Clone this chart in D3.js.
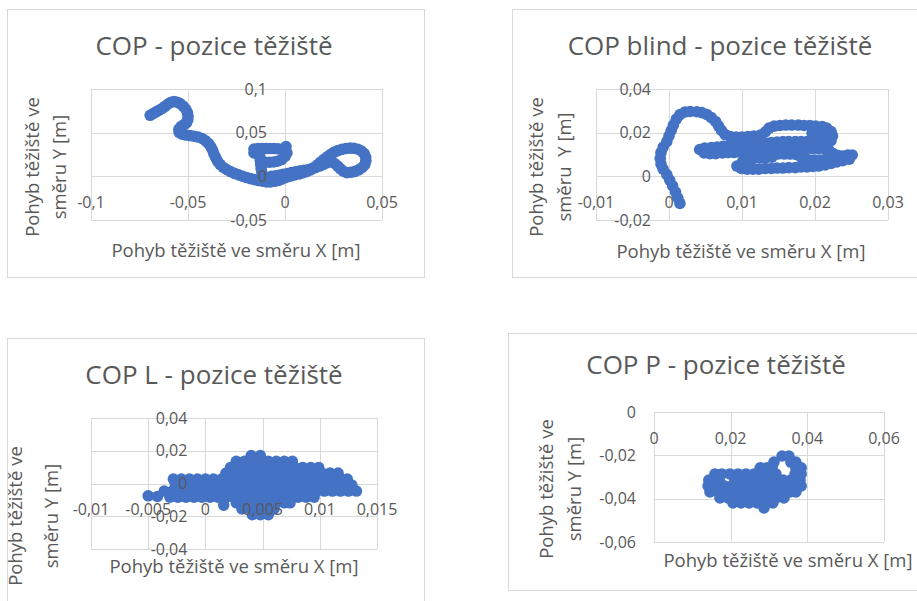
<!DOCTYPE html>
<html>
<head>
<meta charset="utf-8">
<script src="https://cdn.jsdelivr.net/npm/d3@7"></script>
<style>
  html, body { margin: 0; padding: 0; background: #fff; }
  svg text { font-family: "Open Sans", "Noto Sans", sans-serif; fill: #595959; white-space: pre; }
</style>
</head>
<body>
<svg width="917" height="601"></svg>
<script>
// COP - pozice těžiště (x, y v metrech)
var copPoints = [
  [-0.0695,0.0699],[-0.0680,0.0719],[-0.0664,0.0739],[-0.0649,0.0757],[-0.0633,0.0777],[-0.0618,0.0802],
  [-0.0603,0.0828],[-0.0587,0.0849],[-0.0572,0.0857],[-0.0556,0.0849],[-0.0541,0.0832],[-0.0525,0.0805],
  [-0.0512,0.0771],[-0.0503,0.0731],[-0.0500,0.0691],[-0.0501,0.0651],[-0.0507,0.0616],[-0.0520,0.0593],
  [-0.0536,0.0570],[-0.0547,0.0538],[-0.0546,0.0504],[-0.0530,0.0482],[-0.0510,0.0473],[-0.0489,0.0466],
  [-0.0469,0.0459],[-0.0448,0.0450],[-0.0427,0.0433],[-0.0409,0.0407],[-0.0394,0.0376],[-0.0382,0.0338],
  [-0.0373,0.0298],[-0.0366,0.0255],[-0.0357,0.0215],[-0.0348,0.0175],[-0.0335,0.0137],[-0.0319,0.0104],
  [-0.0301,0.0078],[-0.0281,0.0055],[-0.0260,0.0034],[-0.0239,0.0017],[-0.0219,0.0001],[-0.0198,-0.0014],
  [-0.0178,-0.0026],[-0.0157,-0.0038],[-0.0136,-0.0048],[-0.0116,-0.0056],[-0.0095,-0.0063],[-0.0075,-0.0064],
  [-0.0054,-0.0057],[-0.0033,-0.0046],[-0.0013,-0.0029],[0.0008,-0.0010],[0.0028,0.0003],[0.0049,0.0015],
  [0.0070,0.0026],[0.0090,0.0038],[0.0111,0.0054],[0.0131,0.0074],[0.0149,0.0100],[0.0166,0.0129],
  [0.0183,0.0162],[0.0199,0.0192],[0.0216,0.0221],[0.0234,0.0249],[0.0252,0.0274],[0.0272,0.0294],
  [0.0293,0.0309],[0.0314,0.0318],[0.0335,0.0323],[0.0355,0.0321],[0.0376,0.0310],[0.0394,0.0290],
  [0.0408,0.0260],[0.0416,0.0221],[0.0417,0.0178],[0.0411,0.0135],[0.0398,0.0101],[0.0380,0.0074],
  [0.0361,0.0057],[0.0340,0.0046],[0.0319,0.0042],[0.0301,0.0058],[0.0286,0.0086],[0.0272,0.0118],
  [0.0256,0.0147],[0.0238,0.0170],[0.0219,0.0157],[0.0198,0.0137],[0.0178,0.0118],[0.0157,0.0100],
  [0.0136,0.0086],[0.0116,0.0076],[0.0095,0.0068],[0.0075,0.0060],[0.0054,0.0052],[0.0033,0.0042],
  [0.0013,0.0033],[-0.0008,0.0024],[-0.0028,0.0015],[-0.0049,0.0007],[-0.0070,0.0000],
  [-0.0160,0.0313],[-0.0139,0.0317],[-0.0118,0.0318],[-0.0098,0.0318],[-0.0077,0.0318],[-0.0057,0.0318],
  [-0.0036,0.0315],[-0.0015,0.0310],[0.0003,0.0301],[0.0010,0.0267],[0.0000,0.0227],[-0.0018,0.0192],
  [-0.0039,0.0173],[-0.0059,0.0164],[-0.0080,0.0162],[-0.0100,0.0162],[-0.0160,0.0267],[-0.0134,0.0273],
  [-0.0130,0.0227],[-0.0127,0.0181],[-0.0125,0.0135],[-0.0123,0.0089],[-0.0119,0.0044],[-0.0116,-0.0002],
  [0.0005,0.0341]
];

// COP blind - pozice těžiště
var copBlindPoints = [
  [0.0015,-0.0124],[0.0012,-0.0099],[0.0009,-0.0072],[0.0005,-0.0044],[0.0001,-0.0017],[-0.0003,0.0008],
  [-0.0008,0.0033],[-0.0011,0.0056],[-0.0012,0.0082],[-0.0011,0.0109],[-0.0008,0.0134],[-0.0003,0.0159],
  [0.0000,0.0185],[0.0003,0.0210],[0.0006,0.0235],[0.0010,0.0262],[0.0015,0.0283],[0.0022,0.0295],
  [0.0029,0.0297],[0.0038,0.0296],[0.0045,0.0292],[0.0052,0.0283],[0.0058,0.0269],[0.0064,0.0251],
  [0.0068,0.0230],[0.0072,0.0210],[0.0077,0.0191],[0.0084,0.0182],[0.0092,0.0180],[0.0100,0.0180],
  [0.0108,0.0182],[0.0116,0.0185],[0.0125,0.0189],[0.0132,0.0203],[0.0137,0.0221],[0.0144,0.0230],
  [0.0152,0.0233],[0.0160,0.0235],[0.0168,0.0235],[0.0177,0.0235],[0.0185,0.0233],[0.0193,0.0233],
  [0.0201,0.0230],[0.0210,0.0228],[0.0216,0.0221],[0.0222,0.0205],[0.0224,0.0185],[0.0222,0.0164],
  [0.0214,0.0155],[0.0205,0.0157],[0.0197,0.0157],[0.0189,0.0159],[0.0181,0.0159],[0.0173,0.0159],
  [0.0164,0.0159],[0.0156,0.0159],[0.0148,0.0157],[0.0140,0.0155],[0.0132,0.0153],[0.0123,0.0150],
  [0.0115,0.0148],[0.0107,0.0146],[0.0099,0.0143],[0.0090,0.0141],[0.0082,0.0139],[0.0074,0.0137],
  [0.0066,0.0134],[0.0058,0.0132],[0.0049,0.0130],[0.0042,0.0123],[0.0048,0.0107],[0.0056,0.0104],
  [0.0064,0.0104],[0.0073,0.0107],[0.0081,0.0109],[0.0089,0.0109],[0.0097,0.0111],[0.0105,0.0111],
  [0.0114,0.0114],[0.0122,0.0116],[0.0130,0.0118],[0.0138,0.0120],[0.0147,0.0123],[0.0155,0.0123],
  [0.0163,0.0125],[0.0171,0.0125],[0.0179,0.0127],[0.0188,0.0127],[0.0196,0.0127],[0.0204,0.0127],
  [0.0212,0.0127],[0.0219,0.0120],[0.0225,0.0104],[0.0232,0.0095],[0.0238,0.0093],[0.0245,0.0098],
  [0.0251,0.0098],[0.0247,0.0079],[0.0238,0.0072],[0.0230,0.0066],[0.0222,0.0059],[0.0214,0.0052],
  [0.0205,0.0047],[0.0197,0.0045],[0.0189,0.0043],[0.0181,0.0043],[0.0173,0.0040],[0.0164,0.0040],
  [0.0156,0.0038],[0.0148,0.0038],[0.0140,0.0036],[0.0132,0.0036],[0.0123,0.0033],[0.0115,0.0033],
  [0.0107,0.0033],[0.0099,0.0036],[0.0093,0.0047],[0.0100,0.0063],[0.0108,0.0075],[0.0116,0.0082],
  [0.0125,0.0084],[0.0133,0.0086],[0.0141,0.0088],[0.0149,0.0102],[0.0158,0.0102],[0.0166,0.0102],
  [0.0174,0.0100],[0.0182,0.0082],[0.0190,0.0077],[0.0199,0.0075],[0.0207,0.0075],[0.0215,0.0079],
  [0.0223,0.0084],[0.0196,0.0198],[0.0204,0.0196],[0.0212,0.0191]
];

// COP L - pozice těžiště, po řádcích: [y, [x, ...]]
var copLRows = [
  [0.0170, [0.0040,0.0048]],
  [0.0135, [0.0027,0.0034,0.0041,0.0048,0.0055,0.0062,0.0069,0.0076]],
  [0.0098, [0.0022,0.0029,0.0036,0.0043,0.0050,0.0057,0.0064,0.0071,0.0078,0.0085,0.0092,0.0099]],
  [0.0064, [0.0018,0.0025,0.0032,0.0039,0.0046,0.0053,0.0060,0.0067,0.0074,0.0081,0.0088,0.0095,0.0102,0.0109,0.0116]],
  [0.0027, [-0.0028,-0.0021,-0.0014,-0.0007,0.0000,0.0007,0.0014,0.0021,0.0028,0.0035,0.0042,0.0049,0.0056,0.0063,0.0070,0.0077,0.0084,0.0091,0.0098,0.0105,0.0112,0.0119,0.0124]],
  [-0.0010, [-0.0026,-0.0019,-0.0012,-0.0005,0.0002,0.0009,0.0016,0.0023,0.0030,0.0037,0.0044,0.0051,0.0058,0.0065,0.0072,0.0079,0.0086,0.0093,0.0100,0.0107,0.0114,0.0121,0.0128]],
  [-0.0046, [-0.0036,-0.0029,-0.0022,-0.0015,-0.0008,-0.0001,0.0006,0.0013,0.0020,0.0027,0.0034,0.0041,0.0048,0.0055,0.0062,0.0069,0.0076,0.0083,0.0090,0.0097,0.0104,0.0111,0.0118,0.0125,0.0132]],
  [-0.0083, [-0.0031,-0.0024,-0.0017,-0.0010,-0.0003,0.0004,0.0011,0.0018,0.0025,0.0032,0.0039,0.0046,0.0053,0.0060,0.0067,0.0074,0.0081,0.0088,0.0095]],
  [-0.0118, [0.0027,0.0034,0.0041,0.0048,0.0055,0.0062,0.0069,0.0074]],
  [-0.0155, [0.0032,0.0039,0.0046,0.0053,0.0060]],
  [-0.0190, [0.0041,0.0048,0.0055]],
  [-0.0075, [-0.0050]],
  [-0.0079, [-0.0042]],
  [-0.0132, [0.0016]]
];

// COP P - pozice těžiště, po řádcích: [y, [x, ...]]
var copPRows = [
  [-0.0203, [0.0334,0.0352]],
  [-0.0231, [0.0313,0.0357,0.0370]],
  [-0.0258, [0.0277,0.0295,0.0308,0.0370,0.0384]],
  [-0.0286, [0.0159,0.0177,0.0198,0.0219,0.0240,0.0261,0.0282,0.0303,0.0318,0.0368,0.0384]],
  [-0.0314, [0.0143,0.0170,0.0211,0.0232,0.0253,0.0274,0.0295,0.0316,0.0337,0.0357,0.0381]],
  [-0.0341, [0.0141,0.0162,0.0183,0.0203,0.0224,0.0245,0.0266,0.0287,0.0308,0.0329,0.0350,0.0370,0.0384]],
  [-0.0369, [0.0146,0.0167,0.0188,0.0209,0.0230,0.0250,0.0271,0.0292,0.0313,0.0334,0.0355,0.0370]],
  [-0.0397, [0.0172,0.0193,0.0214,0.0235,0.0256,0.0277,0.0297,0.0318,0.0339]],
  [-0.0420, [0.0206,0.0227,0.0248,0.0269,0.0290,0.0310]],
  [-0.0443, [0.0287]]
];

// popisky os
var p1XTicks = [-0.1, -0.05, 0, 0.05], p1YTicks = [-0.05, 0, 0.05, 0.1];
var p2XTicks = [-0.01, 0, 0.01, 0.02, 0.03], p2YTicks = [-0.02, 0, 0.02, 0.04];
var p3XTicks = [-0.01, -0.005, 0, 0.005, 0.01, 0.015], p3YTicks = [-0.04, -0.02, 0, 0.02, 0.04];
var p4XTicks = [0, 0.02, 0.04, 0.06], p4YTicks = [-0.06, -0.04, -0.02, 0];

var titles = ["COP - pozice těžiště", "COP blind - pozice těžiště", "COP L - pozice těžiště", "COP P - pozice těžiště"];
var xTitle = "Pohyb těžiště ve směru X [m]";
var yTitles = [["Pohyb těžiště ve", "směru Y [m]"], ["Pohyb těžiště ve", "směru  Y [m]"],
               ["Pohyb těžiště ve", "směru Y [m]"], ["Pohyb těžiště ve", "směru Y [m]"]];

function fromRows(rows) {
  var out = [];
  rows.forEach(function(r) {
    r[1].forEach(function(xv) { out.push([xv, r[0]]); });
  });
  return out;
}

var locale = d3.formatLocale({decimal: ",", thousands: " ", grouping: [3], currency: ["", ""], minus: "-"});
var fmt = locale.format("~g");

var svg = d3.select("svg");
var blue = "#4472c4", grid = "#d9d9d9";

var panels = [
  {box: [7.5, 9.5, 417, 268], plot: [91, 382, 89, 220], xd: [-0.1, 0.05], yd: [-0.05, 0.1],
   xt: p1XTicks, yt: p1YTicks, pts: copPoints, title: titles[0], tPos: [214, 55],
   xtPos: [236, 257], ytX: [39, 66], ytY: 167},
  {box: [512.5, 9.5, 420, 268], plot: [596, 888, 89, 220], xd: [-0.01, 0.03], yd: [-0.02, 0.04],
   xt: p2XTicks, yt: p2YTicks, pts: copBlindPoints, title: titles[1], tPos: [720, 55],
   xtPos: [741, 258], ytX: [543, 571], ytY: 167},
  {box: [7.5, 338.5, 417, 300], plot: [91, 377, 418, 549], xd: [-0.01, 0.015], yd: [-0.04, 0.04],
   xt: p3XTicks, yt: p3YTicks, pts: fromRows(copLRows), title: titles[2], tPos: [214, 384],
   xtPos: [234, 573], ytX: [22, 58], ytY: 516},
  {box: [508.5, 333.5, 420, 257], plot: [654, 884, 412, 542], xd: [0, 0.06], yd: [-0.06, 0],
   xt: p4XTicks, yt: p4YTicks, pts: fromRows(copPRows), title: titles[3], tPos: [716, 374],
   xtPos: [788, 567], ytX: [553, 581], ytY: 489}
];

panels.forEach(function(p, i) {
  var g = svg.append("g");
  g.append("rect")
    .attr("x", p.box[0]).attr("y", p.box[1])
    .attr("width", p.box[2]).attr("height", p.box[3])
    .attr("fill", "#fff").attr("stroke", grid);

  var x = d3.scaleLinear().domain(p.xd).range([p.plot[0], p.plot[1]]);
  var y = d3.scaleLinear().domain(p.yd).range([p.plot[3], p.plot[2]]);

  g.selectAll(".vgrid").data(p.xt).enter().append("line")
    .attr("x1", function(d) { return Math.round(x(d)) + 0.5; })
    .attr("x2", function(d) { return Math.round(x(d)) + 0.5; })
    .attr("y1", p.plot[2]).attr("y2", p.plot[3])
    .attr("stroke", grid);
  g.selectAll(".hgrid").data(p.yt).enter().append("line")
    .attr("y1", function(d) { return Math.round(y(d)) + 0.5; })
    .attr("y2", function(d) { return Math.round(y(d)) + 0.5; })
    .attr("x1", p.plot[0]).attr("x2", p.plot[1])
    .attr("stroke", grid);

  g.selectAll(".pt").data(p.pts).enter().append("circle")
    .attr("cx", function(d) { return x(d[0]); })
    .attr("cy", function(d) { return y(d[1]); })
    .attr("r", 5.8)
    .attr("fill", blue);

  // popisky u os procházejících nulou
  var x0 = x(0), y0 = y(0);
  g.selectAll(".xl").data(p.xt).enter().append("text")
    .attr("x", function(d) { return x(d); })
    .attr("y", y0 + 26)
    .attr("dy", "0.35em")
    .attr("text-anchor", "middle")
    .style("font-size", "16px")
    .text(function(d) { return fmt(d); });
  g.selectAll(".yl").data(p.yt).enter().append("text")
    .attr("x", x0 - 18)
    .attr("y", function(d) { return y(d); })
    .attr("dy", "0.35em")
    .attr("text-anchor", "end")
    .style("font-size", "16px")
    .text(function(d) { return fmt(d); });

  g.append("text")
    .attr("x", p.tPos[0]).attr("y", p.tPos[1])
    .attr("text-anchor", "middle")
    .style("font-size", "26px")
    .text(p.title);

  g.append("text")
    .attr("x", p.xtPos[0]).attr("y", p.xtPos[1])
    .attr("text-anchor", "middle")
    .style("font-size", "18.5px")
    .text(xTitle);

  yTitles[i].forEach(function(line, k) {
    g.append("text")
      .attr("transform", "translate(" + p.ytX[k] + "," + p.ytY + ") rotate(-90)")
      .attr("text-anchor", "middle")
      .style("font-size", "18.5px")
      .text(line);
  });
});
</script>
</body>
</html>
